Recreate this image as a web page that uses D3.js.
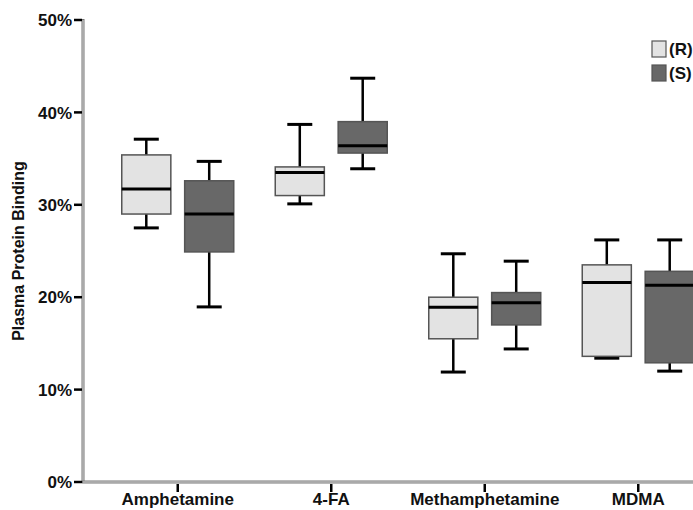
<!DOCTYPE html>
<html>
<head>
<meta charset="utf-8">
<script src="https://cdn.jsdelivr.net/npm/d3@7"></script>
<style>
  body { margin: 0; background: #fff; }
  svg text { font-family: "Liberation Sans", Arial, sans-serif; font-weight: bold; fill: #111; }
</style>
</head>
<body>
<div class="chart"></div>
<script>
// categories and series (percent values)
var drugs = ["Amphetamine", "4-FA", "Methamphetamine", "MDMA"];
var series = ["(R)", "(S)"];
var seriesColor = ["#e3e3e3", "#686868"];
var yTicks = [0, 10, 20, 30, 40, 50];

// [whiskerLow, q1, median, q3, whiskerHigh] per drug
var rStats = [
  [27.5, 29.0, 31.7, 35.4, 37.1],
  [30.1, 31.0, 33.5, 34.1, 38.7],
  [11.9, 15.5, 18.9, 20.0, 24.7],
  [13.4, 13.6, 21.6, 23.5, 26.2]
];
var sStats = [
  [18.95, 24.9, 29.0, 32.6, 34.7],
  [33.9, 35.6, 36.4, 39.0, 43.7],
  [14.4, 17.0, 19.4, 20.5, 23.9],
  [12.0, 12.9, 21.3, 22.8, 26.2]
];

var w = 693, h = 510;
var svg = d3.select(".chart").append("svg")
    .attr("width", w).attr("height", h);

var y = d3.scaleLinear().domain([0, 50]).range([482, 20]);
var x = d3.scaleBand().domain(drugs).range([101, 715]).padding(0);
var sub = d3.scaleBand().domain(series).range([-56, 56]).paddingInner(0.22);

// y axis
svg.append("line").attr("x1", 83).attr("x2", 83).attr("y1", 19).attr("y2", 483)
    .attr("stroke", "#777").attr("stroke-width", 3);
svg.append("line").attr("x1", 83).attr("x2", 83).attr("y1", 20).attr("y2", 482)
    .attr("stroke", "#ddd").attr("stroke-width", 1);
// x axis
svg.append("line").attr("x1", 82).attr("x2", w).attr("y1", 482).attr("y2", 482)
    .attr("stroke", "#777").attr("stroke-width", 3);
svg.append("line").attr("x1", 83).attr("x2", w).attr("y1", 482).attr("y2", 482)
    .attr("stroke", "#ddd").attr("stroke-width", 1);

var yt = svg.selectAll(".ytick").data(yTicks).enter().append("g")
    .attr("class", "ytick")
    .attr("transform", function(d){ return "translate(0," + y(d) + ")"; });
yt.append("line").attr("x1", 74).attr("x2", 82).attr("stroke", "#000").attr("stroke-width", 2.5);
yt.append("text").attr("x", 72).attr("dy", "0.36em").attr("text-anchor", "end")
    .style("font-size", "17px").text(function(d){ return d + "%"; });

var xt = svg.selectAll(".xtick").data(drugs).enter().append("g")
    .attr("class", "xtick")
    .attr("transform", function(d){ return "translate(" + (x(d) + x.bandwidth() / 2) + ",0)"; });
xt.append("line").attr("y1", 484).attr("y2", 492).attr("stroke", "#000").attr("stroke-width", 2.5);
xt.append("text").attr("y", 505).attr("text-anchor", "middle")
    .style("font-size", "17px").text(function(d){ return d; });

svg.append("text")
    .attr("transform", "translate(24,251) rotate(-90)")
    .attr("text-anchor", "middle")
    .style("font-size", "16px")
    .text("Plasma Protein Binding");

// boxes
var boxW = sub.bandwidth();
[rStats, sStats].forEach(function(stats, si){
  var g = svg.selectAll(".box" + si).data(drugs).enter().append("g")
      .attr("transform", function(d){
        return "translate(" + (x(d) + x.bandwidth() / 2 + sub(series[si]) + boxW / 2) + ",0)";
      });
  var st = function(d){ return stats[drugs.indexOf(d)]; };
  // whiskers
  g.append("line").attr("y1", function(d){ return y(st(d)[0]); })
      .attr("y2", function(d){ return y(st(d)[1]); })
      .attr("stroke", "#000").attr("stroke-width", 2.5);
  g.append("line").attr("y1", function(d){ return y(st(d)[3]); })
      .attr("y2", function(d){ return y(st(d)[4]); })
      .attr("stroke", "#000").attr("stroke-width", 2.5);
  [0, 4].forEach(function(k){
    g.append("line").attr("x1", -12.5).attr("x2", 12.5)
        .attr("y1", function(d){ return y(st(d)[k]); })
        .attr("y2", function(d){ return y(st(d)[k]); })
        .attr("stroke", "#000").attr("stroke-width", 3);
  });
  g.append("rect")
      .attr("x", -boxW / 2).attr("width", boxW)
      .attr("y", function(d){ return y(st(d)[3]); })
      .attr("height", function(d){ return y(st(d)[1]) - y(st(d)[3]); })
      .attr("fill", seriesColor[si]).attr("stroke", "#555").attr("stroke-width", 1.5);
  g.append("line").attr("x1", -boxW / 2).attr("x2", boxW / 2)
      .attr("y1", function(d){ return y(st(d)[2]); })
      .attr("y2", function(d){ return y(st(d)[2]); })
      .attr("stroke", "#000").attr("stroke-width", 3);
});

// legend
var lg = svg.selectAll(".leg").data(series).enter().append("g")
    .attr("transform", function(d, i){ return "translate(652," + (41 + i * 24) + ")"; });
lg.append("rect").attr("width", 14).attr("height", 16)
    .attr("fill", function(d, i){ return seriesColor[i]; })
    .attr("stroke", "#555").attr("stroke-width", 1.2);
lg.append("text").attr("x", 17).attr("y", 14).style("font-size", "17px")
    .text(function(d){ return d; });
</script>
</body>
</html>
